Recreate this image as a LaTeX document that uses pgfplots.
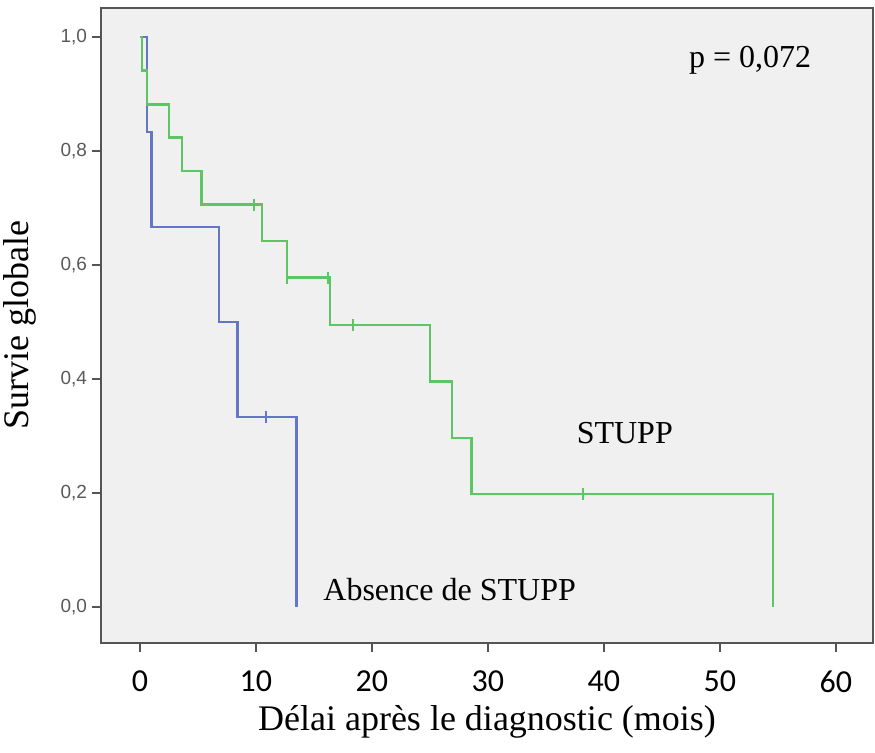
\documentclass[border=0pt]{standalone}
\usepackage{fontspec}
\setmainfont{Liberation Serif}
\newfontfamily\arialf{Liberation Sans}
\newfontfamily\calib{Carlito}
\usepackage{pgfplots}
\pgfplotsset{compat=1.18}
\definecolor{kmblue}{RGB}{100,118,198}
\definecolor{kmgreen}{RGB}{92,198,100}
\definecolor{bgc}{RGB}{240,240,240}
\definecolor{framec}{RGB}{85,85,85}
\begin{document}
\begin{tikzpicture}
\begin{axis}[
  name=ax,
  scale only axis,
  width=386pt, height=317.5pt,
  xmin=-3.36, xmax=63.2,
  ymin=-0.063, ymax=1.051,
  axis background/.style={fill=bgc},
  axis line style={framec, line width=1pt},
  tick align=outside,
  major tick length=4.5pt,
  tick style={framec, line width=0.9pt},
  xtick pos=bottom, ytick pos=left,
  xtick={0,10,20,30,40,50,60},
  xticklabels={0,10,20,30,40,50,60},
  ytick={0,0.2,0.4,0.6,0.8,1.0},
  yticklabels={{0,0},{0,2},{0,4},{0,6},{0,8},{1,0}},
  xticklabel style={font=\calib\fontsize{16}{18}\selectfont, text=black, inner sep=1pt, yshift=-8pt},
  yticklabel style={font=\arialf\fontsize{9.5}{11}\selectfont, text=black!65, xshift=1pt},
  xlabel={Délai après le diagnostic (mois)},
  ylabel={Survie globale},
  xlabel style={font=\fontsize{18}{20}\selectfont, at={(axis description cs:0.5,-0.1386)}, anchor=base, inner sep=0.5pt},
  ylabel style={font=\fontsize{18}{20}\selectfont, at={(axis description cs:-0.105,0.5)}, anchor=center},
]
% Absence de STUPP
\addplot[const plot, kmblue, line width=1.2pt] coordinates {
  (0,1) (0.6,0.833) (1.0,0.667) (6.8,0.5) (8.4,0.333) (13.5,0)
};
\addplot[only marks, mark=|, mark size=3pt, kmblue, mark options={line width=1pt}] coordinates {
  (10.9,0.333)
};
% STUPP
\addplot[const plot, kmgreen, line width=1.2pt] coordinates {
  (0,1) (0.2,0.941) (0.6,0.882) (2.5,0.824) (3.6,0.765) (5.3,0.706)
  (10.5,0.642) (12.7,0.578) (16.4,0.495) (25.0,0.396) (26.9,0.297)
  (28.6,0.198) (54.6,0)
};
\addplot[only marks, mark=|, mark size=3pt, kmgreen, mark options={line width=1pt}] coordinates {
  (9.8,0.706) (12.7,0.578) (16.2,0.578) (18.4,0.495) (38.2,0.198)
};
\node[font=\fontsize{16}{18}\selectfont] at (axis cs:52.6,0.96) {p = 0,072};
\node[font=\fontsize{16}{18}\selectfont] at (axis cs:41.8,0.305) {STUPP};
\node[font=\fontsize{16}{18}\selectfont] at (axis cs:26.7,0.03) {Absence de STUPP};
\end{axis}
\pgfresetboundingbox
\path (ax.south west) ++(-50.5pt,-55pt) rectangle ++(437.5pt,376.5pt);
\end{tikzpicture}
\end{document}
